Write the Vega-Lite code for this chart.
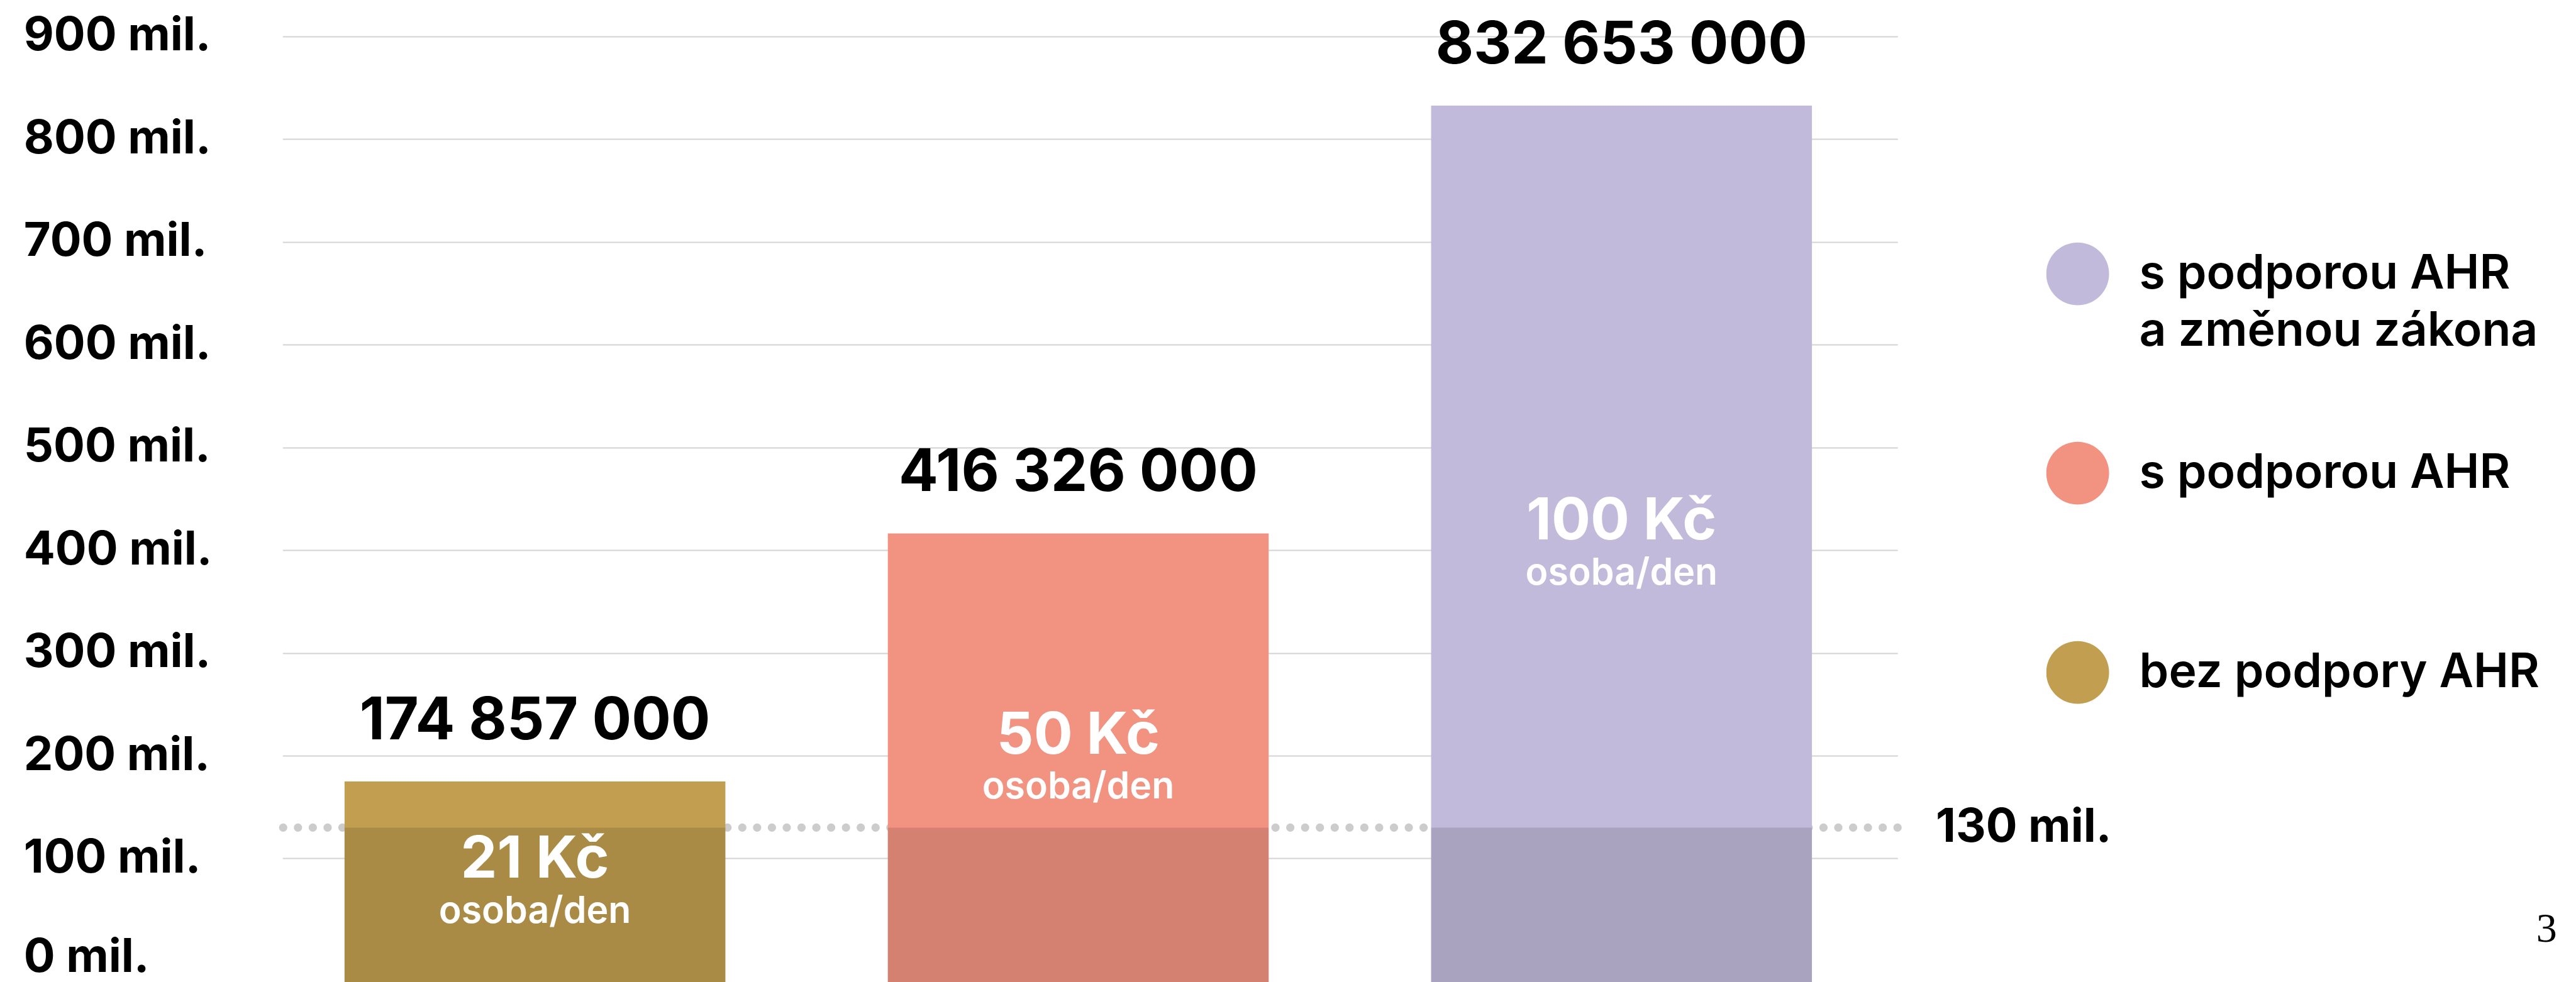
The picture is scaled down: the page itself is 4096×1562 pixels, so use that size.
{
  "$schema": "https://vega.github.io/schema/vega-lite/v6.json",
  "width": 2567.9,
  "height": 1562,
  "autosize": {"type": "none"},
  "padding": {"left": 449.3, "top": 0, "right": 1078.8, "bottom": 0},
  "background": "white",
  "config": {
    "view": {"stroke": null},
    "font": "Inter",
    "locale": {"number": {"decimal": ",", "thousands": " ", "grouping": [3], "currency": ["", " Kč"]}},
    "style": {"guide-label": {"lineHeight": 91}}
  },
  "title": {"text": "3", "orient": "bottom", "anchor": "end", "frame": "group", "font": "Liberation Serif", "fontSize": 66, "fontWeight": "normal", "color": "black", "baseline": "alphabetic", "offset": 0, "dx": 1048.5, "dy": -64},
  "datasets": {
    "costs": [
      {"category": "bez podpory AHR", "value": 174857000, "rate": 21},
      {"category": "s podporou AHR", "value": 416326000, "rate": 50},
      {"category": "s podporou AHR a změnou zákona", "value": 832653000, "rate": 100}
    ],
    "limit": [{"limit": 130000000}]
  },
  "resolve": {"scale": {"y": "independent"}},
  "layer": [
    {
      "data": {"name": "limit"},
      "mark": {"type": "rule", "color": "#cccccc", "strokeWidth": 13.2, "strokeCap": "round", "strokeDash": [0, 23.55]},
      "encoding": {
        "y": {"field": "limit", "type": "quantitative",
          "scale": {"domain": [-20250000, 935450000], "zero": false, "nice": false},
          "axis": {"orient": "right", "values": [130000000], "labelExpr": "format(datum.value / 1000000, 'd') + ' mil.'", "domain": false, "ticks": false, "tickSize": 0, "grid": false, "labelPadding": 60.3, "labelAlign": "left", "labelBaseline": "middle", "labelFont": "Inter", "labelFontSize": 74, "labelFontWeight": 700, "labelColor": "black", "labelLimit": 1000, "title": null}}
      }
    },
    {
      "data": {"name": "costs"},
      "mark": {"type": "bar"},
      "encoding": {
        "x": {"field": "category", "type": "nominal", "sort": ["bez podpory AHR", "s podporou AHR", "s podporou AHR a změnou zákona"],
          "scale": {"paddingInner": 0.299, "paddingOuter": 0.1358, "align": 0.42}, "axis": null},
        "y": {"field": "value", "type": "quantitative", "stack": null,
          "scale": {"domain": [-20250000, 935450000], "zero": false, "nice": false},
          "axis": {"orient": "left", "values": [0, 100000000, 200000000, 300000000, 400000000, 500000000, 600000000, 700000000, 800000000, 900000000],
            "labelExpr": "format(datum.value / 1000000, 'd') + ' mil.'", "domain": false, "ticks": false, "tickSize": 0,
            "grid": true, "gridColor": "#d3d3d3", "gridWidth": 2,
            "gridOpacity": {"condition": {"test": "datum.value === 0", "value": 0}, "value": 1},
            "labelOffset": {"condition": {"test": "datum.value === 0", "value": -5}, "value": 0},
            "labelPadding": 412, "labelAlign": "left", "labelBaseline": "middle", "labelFont": "Inter", "labelFontSize": 74, "labelFontWeight": 700, "labelColor": "black", "labelLimit": 1000, "title": null}},
        "y2": {"datum": -20250000},
        "color": {"field": "category", "type": "nominal",
          "scale": {"domain": ["s podporou AHR a změnou zákona", "s podporou AHR", "bez podpory AHR"], "range": ["#C1BADB", "#F29382", "#C29F50"]},
          "legend": {"orient": "none", "legendX": 2804.3, "legendY": 277.4, "title": null, "padding": 0,
            "symbolType": "circle", "symbolSize": 9980, "symbolStrokeWidth": 0, "symbolOpacity": 1,
            "labelFont": "Inter", "labelFontSize": 75, "labelFontWeight": 600, "labelColor": "black", "labelOffset": 48, "labelLimit": 2000,
            "labelExpr": "datum.label == 's podporou AHR a změnou zákona' ? ['s podporou AHR', 'a změnou zákona'] : datum.label",
            "clipHeight": 316.5, "rowPadding": 0}}
      }
    },
    {
      "data": {"name": "costs"},
      "mark": {"type": "bar", "color": "black", "opacity": 0.12},
      "encoding": {
        "x": {"field": "category", "type": "nominal", "sort": ["bez podpory AHR", "s podporou AHR", "s podporou AHR a změnou zákona"], "axis": null},
        "y": {"datum": 130000000, "type": "quantitative", "scale": {"domain": [-20250000, 935450000], "zero": false, "nice": false}, "axis": null},
        "y2": {"datum": -20250000}
      }
    },
    {
      "data": {"name": "costs"},
      "mark": {"type": "text", "font": "Inter", "fontSize": 93, "fontWeight": 700, "color": "black", "baseline": "alphabetic", "align": "center", "dy": -67},
      "encoding": {
        "x": {"field": "category", "type": "nominal", "sort": ["bez podpory AHR", "s podporou AHR", "s podporou AHR a změnou zákona"], "axis": null},
        "y": {"field": "value", "type": "quantitative", "scale": {"domain": [-20250000, 935450000], "zero": false, "nice": false}, "axis": null},
        "text": {"field": "value", "type": "quantitative", "format": ",d"}
      }
    },
    {
      "data": {"name": "costs"},
      "mark": {"type": "text", "font": "Inter", "fontSize": 92, "fontWeight": 700, "color": "white", "baseline": "alphabetic", "align": "center", "dy": 10},
      "encoding": {
        "x": {"field": "category", "type": "nominal", "sort": ["bez podpory AHR", "s podporou AHR", "s podporou AHR a změnou zákona"], "axis": null},
        "y": {"field": "value", "type": "quantitative", "scale": {"domain": [-40500000, 1870900000], "zero": false, "nice": false}, "axis": null},
        "text": {"field": "rate", "type": "quantitative", "format": "$d"}
      }
    },
    {
      "data": {"name": "costs"},
      "mark": {"type": "text", "font": "Inter", "fontSize": 59, "fontWeight": 600, "color": "white", "baseline": "alphabetic", "align": "center", "dy": 81.6},
      "encoding": {
        "x": {"field": "category", "type": "nominal", "sort": ["bez podpory AHR", "s podporou AHR", "s podporou AHR a změnou zákona"], "axis": null},
        "y": {"field": "value", "type": "quantitative", "scale": {"domain": [-40500000, 1870900000], "zero": false, "nice": false}, "axis": null},
        "text": {"value": "osoba/den"}
      }
    }
  ]
}
